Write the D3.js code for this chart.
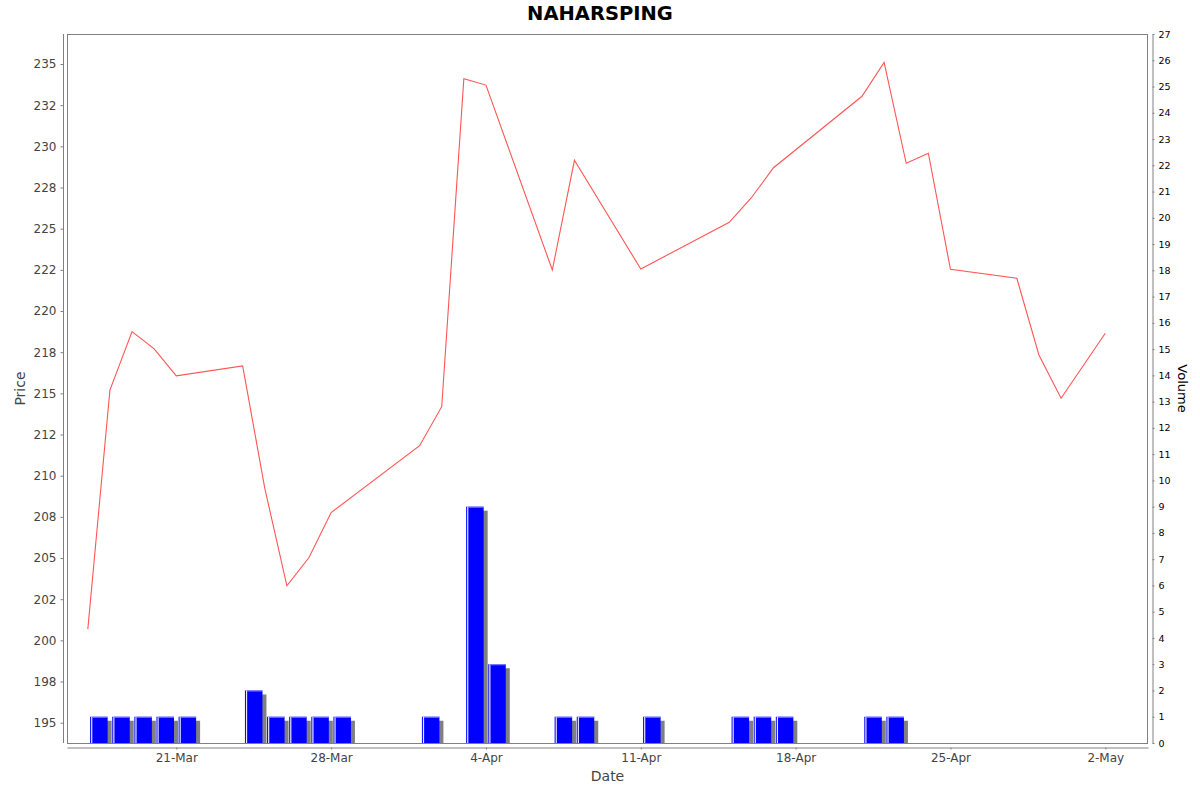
<!DOCTYPE html>
<html>
<head>
<meta charset="utf-8">
<script src="https://cdn.jsdelivr.net/npm/d3@7"></script>
<style>
  html, body { margin: 0; padding: 0; background: #fff; }
  svg { display: block; font-family: "DejaVu Sans", sans-serif; }
</style>
</head>
<body>
<svg id="chart" width="1200" height="792"></svg>
<script>
// ---- data ----
const chartTitle = "NAHARSPING";
const dates = ["2025-03-17","2025-03-18","2025-03-19","2025-03-20","2025-03-21",
  "2025-03-24","2025-03-25","2025-03-26","2025-03-27","2025-03-28",
  "2025-04-01","2025-04-02","2025-04-03","2025-04-04",
  "2025-04-07","2025-04-08","2025-04-11",
  "2025-04-15","2025-04-16","2025-04-17",
  "2025-04-21","2025-04-22","2025-04-23","2025-04-24","2025-04-25",
  "2025-04-28","2025-04-29","2025-04-30","2025-05-02"];
const prices = [200.68, 215.2, 218.75, 217.7, 216.06,
  216.67, 209.24, 203.31, 205.03, 207.76,
  211.82, 214.19, 234.1, 233.72,
  222.49, 229.15, 222.55,
  225.39, 226.88, 228.7,
  233.04, 235.1, 228.97, 229.58, 222.53,
  221.99, 217.33, 214.7, 218.65];
const volumes = [1, 1, 1, 1, 1,
  2, 1, 1, 1, 1,
  1, 0, 9, 3,
  1, 1, 1,
  1, 1, 1,
  1, 1, 0, 0, 0,
  0, 0, 0, 0];
const priceTicks = [195, 197.5, 200, 202.5, 205, 207.5, 210, 212.5, 215, 217.5, 220, 222.5, 225, 227.5, 230, 232.5, 235];
const priceTickLabels = ["195","198","200","202","205","208","210","212","215","218","220","222","225","228","230","232","235"];
const priceDomain = [193.767, 236.822];
const volumeTicks = d3.range(0, 28);
const volumeDomain = [0, 27];
const dateTicks = ["2025-03-21","2025-03-28","2025-04-04","2025-04-11","2025-04-18","2025-04-25","2025-05-02"];
const dateDomain = ["2025-03-16T01:25","2025-05-03T22:20"];

// ---- layout ----
const L = 67, R = 1148, T = 34, B = 743;
const parse = s => { const [d, t] = s.split("T"); const p = d.split("-").map(Number);
  let h = 0, m = 0; if (t) { [h, m] = t.split(":").map(Number); }
  return new Date(p[0], p[1] - 1, p[2], h, m); };

const svg = d3.select("#chart");
const x = d3.scaleTime().domain(dateDomain.map(parse)).range([L, R]);
const y = d3.scaleLinear().domain(priceDomain).range([B, T]);
const yv = d3.scaleLinear().domain(volumeDomain).range([B, T]);

const rows = dates.map((d, i) => ({ t: parse(d), p: prices[i], v: volumes[i] }));

// title
svg.append("text").attr("x", 600).attr("y", 20).attr("text-anchor", "middle")
  .attr("font-size", 19.5).attr("font-weight", "bold").attr("fill", "#000").text(chartTitle);

// clip
svg.append("clipPath").attr("id", "plotclip").append("rect")
  .attr("x", L).attr("y", T).attr("width", R - L).attr("height", B - T);

const plot = svg.append("g").attr("clip-path", "url(#plotclip)");

// bars
const bars = rows.filter(r => r.v > 0);
const barX0 = r => x(d3.timeMinute.offset(r.t, 150));
const barX1 = r => x(d3.timeMinute.offset(r.t, 1290));
plot.selectAll("rect.shadow").data(bars).enter().append("rect").attr("class", "shadow")
  .attr("x", r => barX0(r) + 4).attr("y", r => yv(r.v) + 4)
  .attr("width", r => barX1(r) - barX0(r)).attr("height", r => B - yv(r.v))
  .attr("fill", "#808080");
plot.selectAll("rect.bar").data(bars).enter().append("rect").attr("class", "bar")
  .attr("x", r => barX0(r)).attr("y", r => yv(r.v))
  .attr("width", r => barX1(r) - barX0(r)).attr("height", r => B - yv(r.v))
  .attr("fill", "#0000ff");
plot.selectAll("rect.hl").data(bars).enter().append("rect").attr("class", "hl")
  .attr("x", r => barX0(r) + 1).attr("y", r => yv(r.v))
  .attr("width", 1.2).attr("height", r => B - yv(r.v))
  .attr("fill", "#e8e8ff");
plot.selectAll("rect.top").data(bars).enter().append("rect").attr("class", "top")
  .attr("x", r => barX0(r) + 2.2).attr("y", r => yv(r.v))
  .attr("width", r => barX1(r) - barX0(r) - 2.2).attr("height", 1)
  .attr("fill", "#8888ff");

// price line
plot.append("path").datum(rows)
  .attr("d", d3.line().x(r => x(r.t)).y(r => y(r.p)))
  .attr("fill", "none").attr("stroke", "#ff5555").attr("stroke-width", 1.1);

// plot border
svg.append("rect").attr("x", L + 0.5).attr("y", T + 0.5).attr("width", R - L - 1).attr("height", B - T)
  .attr("fill", "none").attr("stroke", "#808080").attr("stroke-width", 1);

function styleAxis(g, color, size) {
  g.select(".domain").attr("stroke", "#808080");
  g.selectAll(".tick line").attr("stroke", "#808080");
  g.selectAll(".tick text").attr("fill", color).attr("font-size", size)
    .attr("font-family", "DejaVu Sans, sans-serif");
}

// left axis
const gl = svg.append("g").attr("transform", "translate(63.5,0)")
  .call(d3.axisLeft(y).tickValues(priceTicks).tickFormat((d, i) => priceTickLabels[i])
    .tickSize(3).tickSizeOuter(0).tickPadding(4));
gl.select(".domain").attr("d", `M0,${T}V${B}`);
styleAxis(gl, "#444", 12);

// right axis
const gr = svg.append("g").attr("transform", "translate(1152.5,0)")
  .call(d3.axisRight(yv).tickValues(volumeTicks).tickFormat(d3.format("d"))
    .tickSize(2).tickSizeOuter(0).tickPadding(4));
styleAxis(gr, "#000", 9.5);

// bottom axis
const gb = svg.append("g").attr("transform", "translate(0,747.5)")
  .call(d3.axisBottom(x).tickValues(dateTicks.map(parse)).tickFormat(d3.timeFormat("%-d-%b"))
    .tickSize(2).tickSizeOuter(0).tickPadding(4));
styleAxis(gb, "#444", 12);

// axis titles
svg.append("text").attr("transform", `translate(25,${(T + B) / 2}) rotate(-90)`)
  .attr("text-anchor", "middle").attr("font-size", 14).attr("fill", "#444").text("Price");
svg.append("text").attr("x", (L + R) / 2).attr("y", 781)
  .attr("text-anchor", "middle").attr("font-size", 14).attr("fill", "#444").text("Date");
svg.append("text").attr("transform", `translate(1178,${(T + B) / 2}) rotate(90)`)
  .attr("text-anchor", "middle").attr("font-size", 13).attr("fill", "#000").text("Volume");
</script>
</body>
</html>
